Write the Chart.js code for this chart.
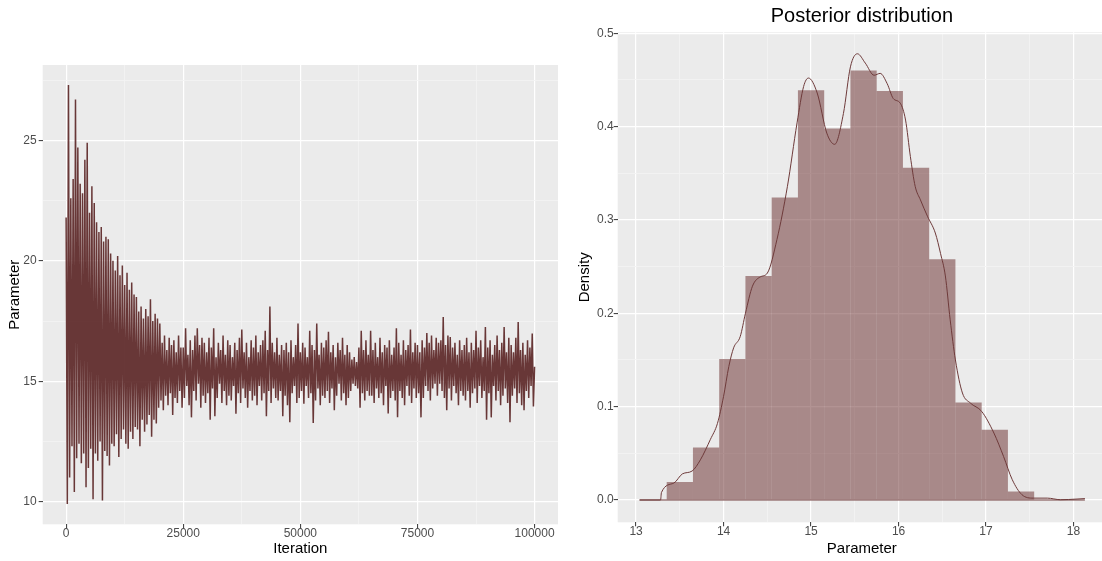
<!DOCTYPE html>
<html>
<head>
<meta charset="utf-8">
<script src="https://cdn.jsdelivr.net/npm/chart.js@4"></script>
<style>
html,body{margin:0;padding:0;background:#ffffff;overflow:hidden;}
#wrap{position:relative;width:1102px;height:561px;overflow:hidden;background:#ffffff;}
#traceCanvas{position:absolute;left:0;top:0;}
#densCanvas{position:absolute;left:560px;top:0;}
</style>
</head>
<body>
<div id="wrap">
<canvas id="traceCanvas" width="560" height="561"></canvas>
<canvas id="densCanvas" width="546" height="561"></canvas>
</div>
<script>
// ---------------- DATA ----------------
// MCMC trace, thinned: one value every traceStep iterations (alternating local highs / lows)
const traceStep = 250;
const traceBurnIn = [
  21.8, 9.9, 27.3, 11.0, 22.6, 12.3, 23.4, 10.4, 26.7, 11.8, 24.7, 12.4, 23.2, 11.6, 22.8, 12.0, 24.2, 10.6, 24.9, 11.4,
  22.0, 12.2, 23.1, 10.1, 22.4, 12.0, 21.6, 11.7, 21.2, 12.5, 21.4, 10.05, 20.8, 12.1, 21.0, 11.9, 20.9, 11.5, 20.3, 12.4,
  20.0, 12.3, 19.6, 12.8, 20.2, 11.85, 19.4, 12.6, 19.8, 13.0, 19.0, 12.4, 19.5, 12.2, 18.8, 12.9, 19.1, 12.6, 18.6, 13.1,
  18.5, 13.0, 17.9, 12.3, 18.1, 13.4, 17.6, 12.9, 18.0, 13.2, 17.7, 13.6, 18.4, 12.7, 17.5, 13.4, 17.8, 13.25, 17.6, 13.9,
  17.4, 14.2, 16.6, 13.8, 16.9, 14.4, 16.3, 14.0, 16.8, 14.5, 16.5, 13.6, 16.7, 14.3, 16.2, 14.1, 16.9, 14.6, 16.4, 13.9
];
const traceSampling = [
  16.4, 14.3, 17.2, 14.8, 16.1, 14.0, 16.7, 13.5, 16.3, 14.6, 16.9, 14.2, 17.2, 14.9, 16.5, 13.9, 16.8, 14.4, 16.6, 14.1,
  16.2, 14.5, 16.8, 13.4, 16.4, 14.7, 17.2, 13.55, 16.0, 14.3, 16.6, 14.9, 16.3, 14.1, 16.9, 14.6, 16.1, 14.0, 16.7, 14.4,
  16.5, 14.2, 16.0, 14.8, 16.6, 13.65, 16.3, 14.5, 16.8, 14.1, 17.15, 14.7, 16.2, 14.3, 16.6, 13.9, 16.0, 14.6, 16.7, 14.2,
  16.4, 14.4, 16.9, 14.0, 16.2, 14.8, 16.5, 14.2, 16.7, 14.5, 17.1, 13.55, 16.3, 14.6, 18.1, 14.1, 16.6, 14.7, 16.2, 14.3,
  16.8, 14.2, 16.1, 14.6, 16.5, 13.55, 16.3, 14.4, 16.6, 14.0, 16.2, 13.3, 16.7, 14.5, 16.0, 14.8, 16.5, 14.1, 17.4, 14.3,
  16.2, 14.6, 16.6, 14.07, 16.4, 14.8, 16.0, 14.3, 17.1, 14.5, 16.5, 13.27, 16.3, 14.2, 17.4, 14.7, 16.1, 14.0, 16.6, 14.4,
  16.4, 14.3, 16.7, 14.6, 17.05, 14.1, 16.2, 14.7, 16.5, 13.8, 16.0, 14.4, 16.6, 14.9, 16.3, 14.2, 16.8, 14.5, 16.1, 14.0,
  16.5, 14.3, 16.2, 14.6, 15.9, 14.9, 16.0, 14.8, 15.8, 14.7, 16.4, 13.9, 17.1, 14.5, 16.3, 14.2, 16.7, 14.6, 16.1, 14.4,
  17.1, 14.4, 16.3, 14.1, 16.6, 14.7, 16.0, 14.3, 16.8, 14.5, 16.2, 14.0, 16.5, 14.8, 16.4, 13.66, 16.7, 14.3, 16.1, 14.6,
  16.4, 14.2, 17.2, 13.5, 16.6, 14.6, 16.1, 14.3, 16.7, 14.0, 16.3, 14.8, 16.5, 14.4, 17.15, 14.1, 16.2, 14.7, 16.6, 14.3,
  16.5, 14.5, 16.2, 13.5, 16.7, 14.3, 16.4, 14.8, 17.0, 14.6, 16.6, 14.2, 16.9, 14.7, 16.3, 14.9, 16.8, 14.4, 16.6, 14.9,
  16.7, 14.6, 17.67, 14.3, 16.5, 13.8, 16.9, 14.7, 16.84, 14.2, 16.4, 14.8, 16.6, 14.5, 16.1, 14.0, 16.7, 14.6, 16.3, 14.4,
  16.5, 14.2, 16.8, 14.6, 16.2, 13.9, 16.6, 14.5, 16.3, 14.7, 17.1, 14.1, 16.4, 14.8, 16.7, 14.3, 16.0, 14.6, 17.25, 13.4,
  16.4, 14.5, 16.7, 13.5, 16.1, 14.8, 16.5, 14.2, 16.9, 14.6, 16.3, 14.0, 16.6, 14.4, 17.25, 14.7, 16.2, 14.1, 16.8, 13.3,
  16.5, 14.4, 16.2, 14.7, 16.8, 14.1, 17.46, 14.5, 16.3, 14.0, 16.6, 13.8, 16.1, 14.6, 16.7, 14.3, 16.4, 14.8, 16.98, 13.95,
  15.6
];
const iterTicksMajor = [0, 25000, 50000, 75000, 100000];
const iterTicksMinor = [12500, 37500, 62500, 87500];
const paramTicksMajor = [10, 15, 20, 25];
const paramTicksMinor = [12.5, 17.5, 22.5, 27.5];

// Posterior histogram (bin centres, density) and density curve
const binCenters = [13.5, 13.8, 14.1, 14.4, 14.7, 15.0, 15.3, 15.6, 15.9, 16.2, 16.5, 16.8, 17.1, 17.4];
const binDensity = [0.0193, 0.0563, 0.151, 0.240, 0.324, 0.439, 0.398, 0.460, 0.438, 0.356, 0.258, 0.1045, 0.0753, 0.0092];
const densityX = [13.04, 13.28, 13.29, 13.43, 13.53, 13.64, 13.735, 13.85, 13.93, 14.00, 14.06, 14.115, 14.19, 14.25, 14.33,
  14.42, 14.50, 14.61, 14.73, 14.84, 14.915, 14.97, 15.07, 15.18, 15.27, 15.37, 15.45, 15.53, 15.62, 15.72, 15.79, 15.87,
  15.94, 16.02, 16.08, 16.135, 16.19, 16.25, 16.33, 16.42, 16.48, 16.535, 16.59, 16.65, 16.73, 16.82, 16.95, 17.09, 17.20,
  17.30, 17.41, 17.54, 17.70, 17.85, 18.04, 18.13];
const densityY = [0, 0, 0.008, 0.018, 0.028, 0.031, 0.043, 0.065, 0.082, 0.111, 0.143, 0.163, 0.175, 0.200, 0.229,
  0.239, 0.243, 0.279, 0.336, 0.404, 0.443, 0.452, 0.436, 0.393, 0.381, 0.414, 0.464, 0.478, 0.468, 0.455, 0.457, 0.446,
  0.430, 0.425, 0.407, 0.368, 0.336, 0.3215, 0.304, 0.286, 0.264, 0.240, 0.193, 0.150, 0.1146, 0.1039, 0.0949, 0.0717, 0.0467,
  0.0217, 0.0057, 0.002, 0.002, 0.0003, 0.001, 0.0015];
const postXTicksMajor = [13, 14, 15, 16, 17, 18];
const postXTicksMinor = [13.5, 14.5, 15.5, 16.5, 17.5];
const postYTicksMajor = [0, 0.1, 0.2, 0.3, 0.4, 0.5];
const postYTicksMinor = [0.05, 0.15, 0.25, 0.35, 0.45];

// ---------------- STYLE / HELPERS ----------------
const FONT = "'Liberation Sans', Arial, Helvetica, sans-serif";
const panelBg = {
  id: 'panelBg',
  beforeDraw(chart) {
    const { ctx, chartArea: a } = chart;
    ctx.save();
    ctx.fillStyle = '#ebebeb';
    ctx.fillRect(a.left, a.top, a.right - a.left, a.bottom - a.top);
    ctx.restore();
  }
};

function ggAxis(majors, minors, fmt, cfg) {
  const all = majors.concat(minors).sort((a, b) => a - b);
  const isMajor = v => majors.some(m => Math.abs(m - v) < 1e-9);
  return {
    type: 'linear',
    position: cfg.position,
    min: cfg.min,
    max: cfg.max,
    bounds: 'data',
    offset: false,
    afterBuildTicks(scale) { scale.ticks = all.map(v => ({ value: v })); },
    afterFit(scale) {
      if (cfg.width !== undefined) scale.width = cfg.width;
      if (cfg.height !== undefined) scale.height = cfg.height;
      scale.paddingLeft = 0; scale.paddingRight = 0; scale.paddingTop = 0; scale.paddingBottom = 0;
    },
    border: { display: false },
    grid: {
      offset: false,
      drawTicks: true,
      tickLength: 4,
      color: c => (c.tick && isMajor(c.tick.value)) ? '#ffffff' : '#f3f3f3',
      lineWidth: c => (c.tick && isMajor(c.tick.value)) ? 1.2 : 0.9,
      tickColor: c => (c.tick && isMajor(c.tick.value)) ? '#333333' : 'rgba(0,0,0,0)',
      tickWidth: 1
    },
    ticks: {
      autoSkip: false,
      maxRotation: 0,
      minRotation: 0,
      padding: cfg.tickPadding,
      color: '#4d4d4d',
      font: { family: FONT, size: 12 },
      callback: v => isMajor(v) ? fmt(v) : ''
    },
    title: {
      display: true,
      text: cfg.title,
      color: '#000000',
      font: { family: FONT, size: 15 },
      padding: cfg.titlePadding
    }
  };
}

const commonPlugins = { legend: { display: false }, tooltip: { enabled: false } };

// ---------------- TRACE PLOT ----------------
const traceAll = traceBurnIn.concat(traceSampling);
const tracePoints = traceAll.map((v, i) => ({ x: i * traceStep, y: v }));

new Chart(document.getElementById('traceCanvas'), {
  type: 'line',
  data: {
    datasets: [{
      data: tracePoints,
      borderColor: 'rgba(90,36,36,0.9)',
      borderWidth: 1.5,
      borderJoinStyle: 'bevel',
      pointRadius: 0,
      tension: 0,
      fill: false
    }]
  },
  options: {
    responsive: false,
    animation: false,
    devicePixelRatio: 1,
    events: [],
    layout: { padding: { top: 65, right: 2, bottom: 0, left: 0 } },
    plugins: commonPlugins,
    scales: {
      x: ggAxis(iterTicksMajor, iterTicksMinor, v => String(v), {
        position: 'bottom', min: -5000, max: 105000, height: 36.7, tickPadding: -2,
        title: 'Iteration', titlePadding: { top: 0, bottom: 3 }
      }),
      y: ggAxis(paramTicksMajor, paramTicksMinor, v => String(v), {
        position: 'left', min: 9.06, max: 28.13, width: 42.7, tickPadding: 2,
        title: 'Parameter', titlePadding: { top: 6, bottom: 0 }
      })
    }
  },
  plugins: [panelBg]
});

// ---------------- POSTERIOR PLOT ----------------
const histPoints = binCenters.map((c, i) => ({ x: c, y: binDensity[i] }));
const densPoints = densityX.map((x, i) => ({ x: x, y: densityY[i] }));
const densBase = [{ x: densityX[0], y: 0 }, { x: densityX[densityX.length - 1], y: 0 }];

new Chart(document.getElementById('densCanvas'), {
  type: 'bar',
  data: {
    datasets: [
      {
        type: 'line',
        data: densPoints,
        borderColor: '#6e3a3a',
        borderWidth: 1,
        pointRadius: 0,
        cubicInterpolationMode: 'monotone',
        fill: false,
        order: 0
      },
      {
        type: 'line',
        data: densBase,
        borderColor: '#6e3a3a',
        borderWidth: 1,
        pointRadius: 0,
        fill: false,
        order: 1
      },
      {
        type: 'bar',
        data: histPoints,
        backgroundColor: 'rgba(102,40,40,0.5)',
        borderWidth: 0,
        barPercentage: 1,
        categoryPercentage: 1,
        inflateAmount: 0,
        order: 2
      }
    ]
  },
  options: {
    responsive: false,
    animation: false,
    devicePixelRatio: 1,
    events: [],
    layout: { padding: { top: 0, right: 0, bottom: 0, left: 0 } },
    plugins: Object.assign({}, commonPlugins, {
      title: {
        display: true,
        text: 'Posterior distribution',
        color: '#000000',
        fullSize: false,
        font: { family: FONT, size: 20, weight: 'normal' },
        padding: { top: 4, bottom: 4.3 }
      }
    }),
    scales: {
      x: ggAxis(postXTicksMajor, postXTicksMinor, v => String(v), {
        position: 'bottom', min: 12.79, max: 18.371, height: 38.7, tickPadding: -2,
        title: 'Parameter', titlePadding: { top: 0, bottom: 3 }
      }),
      y: ggAxis(postYTicksMajor, postYTicksMinor, v => v.toFixed(1), {
        position: 'left', min: -0.0239, max: 0.501, width: 57.7, tickPadding: 0,
        title: 'Density', titlePadding: { top: 16, bottom: 0 }
      })
    }
  },
  plugins: [panelBg]
});
</script>
</body>
</html>
